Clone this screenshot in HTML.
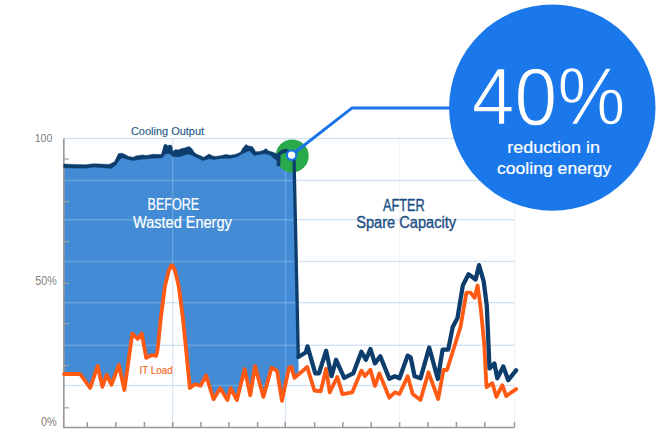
<!DOCTYPE html>
<html><head><meta charset="utf-8"><style>
html,body{margin:0;padding:0;background:#fff;width:660px;height:443px;overflow:hidden}
svg{display:block;font-family:"Liberation Sans",sans-serif}
</style></head><body>
<svg width="660" height="443" viewBox="0 0 660 443">
<line x1="64" y1="138.5" x2="514.5" y2="138.5" stroke="#e9e9e9" stroke-width="1"/>
<line x1="64" y1="180.4" x2="514.5" y2="180.4" stroke="#e9e9e9" stroke-width="1"/>
<line x1="64" y1="219.8" x2="514.5" y2="219.8" stroke="#e9e9e9" stroke-width="1"/>
<line x1="64" y1="261.4" x2="514.5" y2="261.4" stroke="#e9e9e9" stroke-width="1"/>
<line x1="64" y1="302.7" x2="514.5" y2="302.7" stroke="#e9e9e9" stroke-width="1"/>
<line x1="64" y1="345.3" x2="514.5" y2="345.3" stroke="#e9e9e9" stroke-width="1"/>
<line x1="64" y1="385.5" x2="514.5" y2="385.5" stroke="#e9e9e9" stroke-width="1"/>
<line x1="172.7" y1="138.5" x2="172.7" y2="427.5" stroke="#e6e6e6" stroke-width="1" stroke-dasharray="1 1"/>
<line x1="285.5" y1="138.5" x2="285.5" y2="427.5" stroke="#e6e6e6" stroke-width="1" stroke-dasharray="1 1"/>
<line x1="399.6" y1="138.5" x2="399.6" y2="427.5" stroke="#e6e6e6" stroke-width="1" stroke-dasharray="1 1"/>
<line x1="514.5" y1="138.5" x2="514.5" y2="427.5" stroke="#e6e6e6" stroke-width="1" stroke-dasharray="1 1"/>
<polygon points="63.8,165.6 73.6,165.9 85.5,166.2 93.6,165.3 100.9,165.6 109.1,165.9 114.5,163.3 117.3,157.4 118.6,155.1 122.3,154.7 125,156 128.6,157.9 133.2,158.8 135.9,157.4 142.3,156.5 146.8,157 153.2,155.8 161.4,156 164.1,146.5 165.9,145.6 167.7,147.4 169.5,146.5 171.8,147 172.7,153.1 175.5,151 178.2,151.5 181.8,150.1 185.5,149.2 189.1,147.9 191.8,150.1 194.5,154.2 197.3,156 200.9,157.4 203.6,158.8 209.1,155.6 212.7,157.4 215.5,157.9 220.9,157.2 225.5,156.1 230.5,156.7 235.9,155.8 240.5,153.8 242.7,149.7 245.9,146 248.6,147.4 252.3,148.1 254.5,151 255.5,153.3 259.5,152.9 263.2,152 265.9,150.1 268.6,152.4 273.2,153.8 276.8,155.5 281,152 285.7,150.3 289,152 292,154.5 294,157 298.8,375.5 294.5,377.9 291.3,366.9 289,367.6 281.9,400.8 277.1,370.8 271.6,367.6 263.4,396.9 255,366.1 250.3,395.3 244.6,369.2 236.9,400 230.6,388.2 227.4,400 220.3,388.2 213.5,399.2 206.1,375.5 200.5,385.8 195,384.2 189.8,388 189.2,381.4 186.1,349.8 182.9,318.2 178.8,286.6 175,270.8 172.4,265.5 171.2,265.5 168.7,270.8 164.9,286.6 160.8,318.2 157.6,349.8 156.1,356 151.6,355.2 146.2,357.9 141.7,333.5 137.7,339 132.3,333.5 124.4,390 118.9,365 111.4,384.7 106.7,374.6 102.4,386.8 97.6,366 90.2,388 80.1,374 64,374" fill="#438bd4"/>
<g stroke="#a8d0f5" stroke-opacity="0.35">
<line x1="64" y1="138.5" x2="514.5" y2="138.5" stroke-width="1.5"/>
<line x1="64" y1="180.4" x2="514.5" y2="180.4" stroke-width="1.5"/>
<line x1="64" y1="219.8" x2="514.5" y2="219.8" stroke-width="1.5"/>
<line x1="64" y1="261.4" x2="514.5" y2="261.4" stroke-width="1.5"/>
<line x1="64" y1="302.7" x2="514.5" y2="302.7" stroke-width="1.5"/>
<line x1="64" y1="345.3" x2="514.5" y2="345.3" stroke-width="1.5"/>
<line x1="64" y1="385.5" x2="514.5" y2="385.5" stroke-width="1.5"/>
<line x1="172.7" y1="138.5" x2="172.7" y2="427.5" stroke-width="1.3"/>
<line x1="285.5" y1="138.5" x2="285.5" y2="427.5" stroke-width="1.3"/>
</g>
<path d="M63.8 138.5 V427.5 H514.5" fill="none" stroke="#999999" stroke-width="1.7"/>
<line x1="87.3" y1="422" x2="87.3" y2="427.5" stroke="#999999" stroke-width="1.5"/>
<line x1="115.8" y1="422" x2="115.8" y2="427.5" stroke="#999999" stroke-width="1.5"/>
<line x1="144.4" y1="422" x2="144.4" y2="427.5" stroke="#999999" stroke-width="1.5"/>
<line x1="172.7" y1="422" x2="172.7" y2="427.5" stroke="#999999" stroke-width="1.5"/>
<line x1="200.9" y1="422" x2="200.9" y2="427.5" stroke="#999999" stroke-width="1.5"/>
<line x1="229.1" y1="422" x2="229.1" y2="427.5" stroke="#999999" stroke-width="1.5"/>
<line x1="257.6" y1="422" x2="257.6" y2="427.5" stroke="#999999" stroke-width="1.5"/>
<line x1="285.2" y1="422" x2="285.2" y2="427.5" stroke="#999999" stroke-width="1.5"/>
<line x1="314.7" y1="422" x2="314.7" y2="427.5" stroke="#999999" stroke-width="1.5"/>
<line x1="342.8" y1="422" x2="342.8" y2="427.5" stroke="#999999" stroke-width="1.5"/>
<line x1="371.2" y1="422" x2="371.2" y2="427.5" stroke="#999999" stroke-width="1.5"/>
<line x1="399.6" y1="422" x2="399.6" y2="427.5" stroke="#999999" stroke-width="1.5"/>
<line x1="428" y1="422" x2="428" y2="427.5" stroke="#999999" stroke-width="1.5"/>
<line x1="456.4" y1="422" x2="456.4" y2="427.5" stroke="#999999" stroke-width="1.5"/>
<line x1="484.8" y1="422" x2="484.8" y2="427.5" stroke="#999999" stroke-width="1.5"/>
<line x1="514.5" y1="422" x2="514.5" y2="427.5" stroke="#999999" stroke-width="1.5"/>
<line x1="63.8" y1="159" x2="69" y2="159" stroke="#a0a0a0" stroke-width="1.2"/>
<line x1="63.8" y1="201.6" x2="69" y2="201.6" stroke="#a0a0a0" stroke-width="1.2"/>
<line x1="63.8" y1="241.6" x2="69" y2="241.6" stroke="#a0a0a0" stroke-width="1.2"/>
<line x1="63.8" y1="283.3" x2="69" y2="283.3" stroke="#a0a0a0" stroke-width="1.2"/>
<line x1="63.8" y1="323.6" x2="69" y2="323.6" stroke="#a0a0a0" stroke-width="1.2"/>
<line x1="63.8" y1="365.6" x2="69" y2="365.6" stroke="#a0a0a0" stroke-width="1.2"/>
<line x1="63.8" y1="407.8" x2="69" y2="407.8" stroke="#a0a0a0" stroke-width="1.2"/>
<circle cx="292.2" cy="155.9" r="16.5" fill="#29aa4a"/>
<polyline points="64,374 80.1,374 90.2,388 97.6,366 102.4,386.8 106.7,374.6 111.4,384.7 118.9,365 124.4,390 132.3,333.5 137.7,339 141.7,333.5 146.2,357.9 151.6,355.2 156.1,356 157.6,349.8 160.8,318.2 164.9,286.6 168.7,270.8 171.2,265.5 172.4,265.5 175,270.8 178.8,286.6 182.9,318.2 186.1,349.8 189.2,381.4 189.8,388 195,384.2 200.5,385.8 206.1,375.5 213.5,399.2 220.3,388.2 227.4,400 230.6,388.2 236.9,400 244.6,369.2 250.3,395.3 255,366.1 263.4,396.9 271.6,367.6 277.1,370.8 281.9,400.8 289,367.6 291.3,366.9 294.5,377.9 307.2,367 314.4,390.5 320.7,391.4 326.1,368.8 329.7,392.3 337.3,377 342.4,394.1 352.3,392.3 361.4,370.6 365,376.1 370.4,369.7 374.9,386 379.4,373.4 389.3,397.7 394.8,392.3 399.5,394 407.7,376.3 412.7,394 420.5,399.9 428.5,372.3 438.2,399 443.5,370 447,370 460.5,327 466.4,292.6 470.5,292.6 474.6,297.7 477.6,285.5 480.7,307.9 484.3,345 486.5,387.1 492.4,383.2 496.4,397 502.3,385.2 506.2,396 516.1,389.1" fill="none" stroke="#ff5a14" stroke-width="3.8" stroke-linejoin="round" stroke-linecap="round"/>
<polygon points="63.8,164.1 73.6,164.4 85.5,164.7 93.6,163.8 100.9,164.1 109.1,164.4 114.5,161.8 117.3,155.9 118.6,153.6 122.3,153.2 125,154.5 128.6,156.4 133.2,157.3 135.9,155.9 142.3,155 146.8,155.5 153.2,154.3 161.4,154.5 164.1,145 165.9,144.1 167.7,145.9 169.5,145 171.8,145.5 172.7,151.6 175.5,149.5 178.2,150 181.8,148.6 185.5,147.7 189.1,146.4 191.8,148.6 194.5,152.7 197.3,154.5 200.9,155.9 203.6,157.3 209.1,154.1 212.7,155.9 215.5,156.4 220.9,155.7 225.5,154.6 230.5,155.2 235.9,154.3 240.5,152.3 242.7,148.2 245.9,144.5 248.6,145.9 252.3,146.6 254.5,149.5 255.5,151.8 259.5,151.4 263.2,150.5 265.9,148.6 268.6,150.9 273.2,152.3 276.8,154 281,150.5 285.7,148.8 289,150.5 292,153 292,157 289,154.5 285.7,152.3 281.5,154 280.2,155.5 280,166 277,166 276.8,160 274.1,158.6 270.5,155 265,153.6 259.5,154.5 254.1,155.5 251.4,152.7 249.5,150.5 246.8,151.8 243.2,153.2 236.8,156.8 230.5,158.2 225,158.2 220.9,158.5 213.6,159.5 209.1,158.8 206.4,159.5 202.7,160.5 200,159.1 194.5,156.4 191.8,155 187.3,154.1 181.8,155.9 178.2,156.8 175.5,156.4 173.2,156.8 169.5,153.6 165,154.1 162.3,157.7 153.2,158.2 142.3,159.1 133.2,160.5 128.6,159.5 125,158.6 122.3,157.7 120,159 118.2,161.8 115.5,165.5 110.9,168.4 100.9,167.5 93.6,167.1 85.5,168.2 73.6,168 63.8,167.7" fill="#0d3d6c" stroke="#0d3d6c" stroke-width="0.5" stroke-linejoin="round"/>
<polyline points="294,157 298.3,357" fill="none" stroke="#0d3d6c" stroke-width="3.3" stroke-linecap="round"/>
<polyline points="298.3,357 305.7,352.5 307.5,346.4 315.3,373.4 318.9,373.4 326.1,350.8 331.5,376.1 336.1,359.8 344.2,377.9 353.2,373.4 361.4,351.7 365.9,359.8 370.4,349 374.9,363.4 380.3,356.2 389.3,378.8 394.9,376.3 399.5,378.3 407.7,355.6 410.7,357.6 414.6,376.3 420.5,378.3 429.2,347.5 437.8,379 442.6,349.6 448.2,349.6 452.7,327.1 457.5,318 462.8,285.5 468.5,274.3 475.6,279.4 479,265.2 483.7,281.4 486.8,305.8 489.5,368.4 494.4,363.5 497.3,378.3 503.3,366.4 508.2,380.2 516.1,370.4" fill="none" stroke="#0d3d6c" stroke-width="4.3" stroke-linejoin="round" stroke-linecap="round"/>
<polyline points="291.6,155 352.1,107.9 452,107.9" fill="none" stroke="#1a73e8" stroke-width="3"/>
<circle cx="291.6" cy="155.1" r="4.8" fill="#ffffff" stroke="#1a73e8" stroke-width="2.2"/>
<circle cx="552.3" cy="107.6" r="103.2" fill="#1a78eb"/>
<text x="548.6" y="124.6" font-family="Liberation Sans, sans-serif" font-size="81" fill="#fff" stroke="#1a78eb" stroke-width="1.3" text-anchor="middle" textLength="153.5" lengthAdjust="spacingAndGlyphs">40%</text>
<text x="553.6" y="152.7" font-family="Liberation Sans, sans-serif" font-size="16" fill="#fff" stroke="#fff" stroke-width="0.2" text-anchor="middle" textLength="92.7" lengthAdjust="spacingAndGlyphs">reduction in</text>
<text x="554.2" y="173.6" font-family="Liberation Sans, sans-serif" font-size="16" fill="#fff" stroke="#fff" stroke-width="0.2" text-anchor="middle" textLength="114.4" lengthAdjust="spacingAndGlyphs">cooling energy</text>
<text x="167.5" y="134.7" font-family="Liberation Sans, sans-serif" font-size="11" fill="#25578a" stroke="#25578a" stroke-width="0.12" text-anchor="middle" textLength="73.2" lengthAdjust="spacingAndGlyphs">Cooling Output</text>
<text x="34.7" y="141.7" font-family="Liberation Sans, sans-serif" font-size="11.5" fill="#808080" textLength="17.6" lengthAdjust="spacingAndGlyphs">100</text>
<text x="35.3" y="285.2" font-family="Liberation Sans, sans-serif" font-size="12" fill="#808080" textLength="21.5" lengthAdjust="spacingAndGlyphs">50%</text>
<text x="41" y="426.2" font-family="Liberation Sans, sans-serif" font-size="12" fill="#808080" textLength="15.8" lengthAdjust="spacingAndGlyphs">0%</text>
<text x="147.6" y="210.3" font-family="Liberation Sans, sans-serif" font-size="15.7" fill="#fff" stroke="#fff" stroke-width="0.2" textLength="51.5" lengthAdjust="spacingAndGlyphs">BEFORE</text>
<text x="133.1" y="228.2" font-family="Liberation Sans, sans-serif" font-size="16" fill="#fff" stroke="#fff" stroke-width="0.2" textLength="98.7" lengthAdjust="spacingAndGlyphs">Wasted Energy</text>
<text x="382.9" y="210.7" font-family="Liberation Sans, sans-serif" font-size="15.8" fill="#1c4e84" stroke="#1c4e84" stroke-width="0.35" textLength="41.8" lengthAdjust="spacingAndGlyphs">AFTER</text>
<text x="356.2" y="228.4" font-family="Liberation Sans, sans-serif" font-size="15.8" fill="#1c4e84" stroke="#1c4e84" stroke-width="0.35" textLength="100" lengthAdjust="spacingAndGlyphs">Spare Capacity</text>
<text x="139.5" y="373.8" font-family="Liberation Sans, sans-serif" font-size="11" fill="#f2692b" stroke="#f2692b" stroke-width="0.2" textLength="33.2" lengthAdjust="spacingAndGlyphs">IT Load</text>
</svg>
</body></html>
